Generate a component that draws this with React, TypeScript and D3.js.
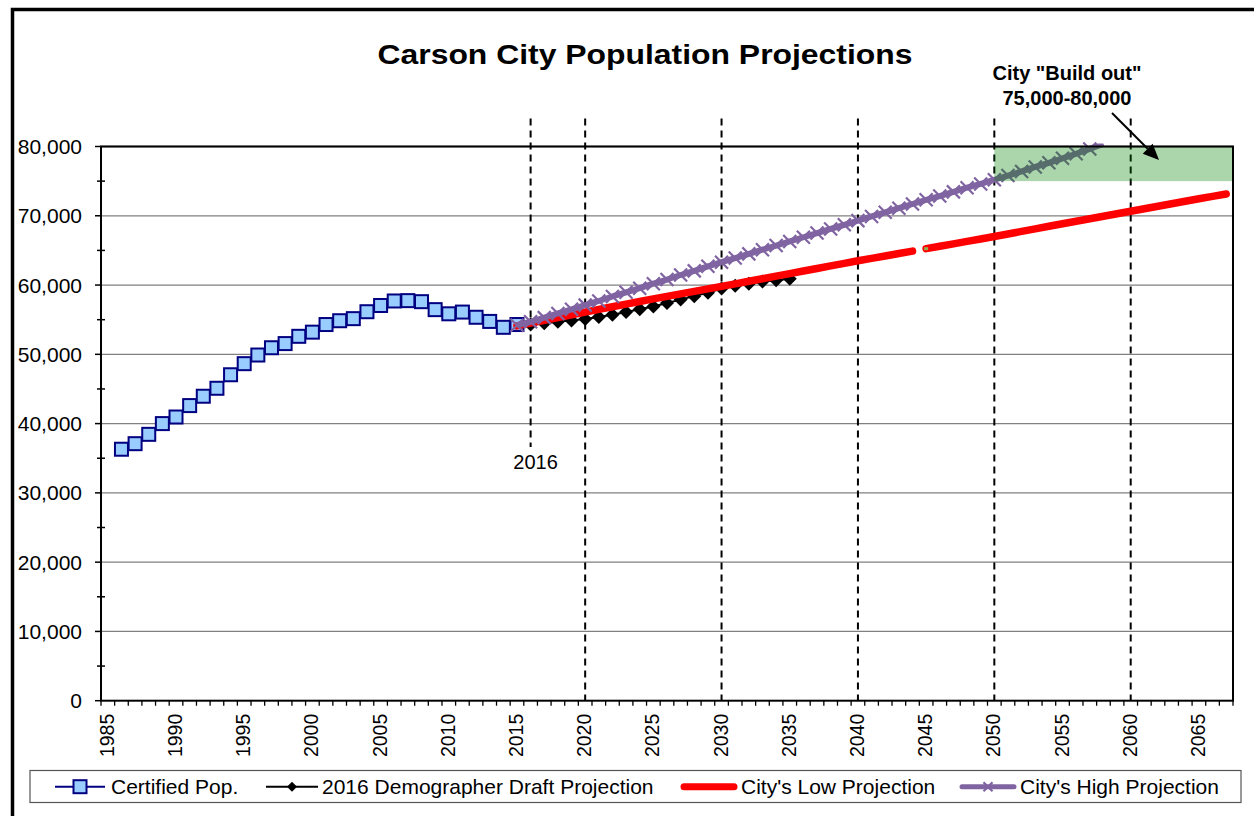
import * as d3 from 'd3';

const W = 1254;
const H = 816;
const PLOT = { left: 101, right: 1233, top: 146.5, bottom: 700.7 };
const FONT = '"Liberation Sans", Arial, sans-serif';

const NAVY = '#000080';
const SQUARE_FILL = '#99CCFF';
const RED = '#FF0000';
const PURPLE = '#8064A2';
const GRID = '#808080';

// category axis: one slot per year
const FIRST_YEAR = 1985;
const LAST_YEAR = 2067;
const X_LABEL_YEARS = [1985, 1990, 1995, 2000, 2005, 2010, 2015, 2020, 2025, 2030, 2035, 2040, 2045, 2050, 2055, 2060, 2065];
const Y_TICKS = [0, 10000, 20000, 30000, 40000, 50000, 60000, 70000, 80000];
const Y_MINOR = [5000, 15000, 25000, 35000, 45000, 55000, 65000, 75000];

const CERTIFIED_START = 1986;
const CERTIFIED = [
  36300, 37100, 38450, 40000, 40950, 42600, 43950, 45100, 47050, 48650,
  49900, 50950, 51550, 52600, 53200, 54300, 54850, 55150, 56150, 57050,
  57700, 57750, 57600, 56450, 55850, 56100, 55350, 54750, 53900, 54300,
];

const DRAFT_START = 2016;
const DRAFT = [
  54300, 54500, 54700, 54900, 55100, 55400, 55700, 56100, 56500, 56900,
  57400, 57900, 58400, 58900, 59500, 59900, 60200, 60500, 60700, 60900,
];

const LOW_START = 2015;
const LOW_GAP_AFTER = 2044;
const LOW = [
  54100, 54500, 54900, 55300, 55700, 56100, 56480, 56860, 57240, 57620,
  58000, 58360, 58720, 59080, 59440, 59800, 60170, 60540, 60910, 61280,
  61650, 62020, 62390, 62760, 63130, 63500, 63850, 64200, 64550, 64900,
  65250, 65600, 65950, 66300, 66650, 67000, 67370, 67740, 68110, 68480,
  68850, 69210, 69570, 69930, 70290, 70650, 71010, 71370, 71730, 72090,
  72450, 72800, 73150,
];

const HIGH_START = 2015;
const HIGH = [
  54200, 54700, 55300, 55900, 56500, 57100, 57700, 58350, 58950, 59550,
  60200, 60800, 61450, 62050, 62700, 63300, 63900, 64500, 65100, 65700,
  66300, 66900, 67500, 68100, 68700, 69300, 69900, 70500, 71100, 71700,
  72300, 72850, 73450, 74050, 74600, 75200, 75800, 76400, 77050, 77650,
  78300, 78950, 79650, 80400,
];

const MARKER_YEARS = [2016, 2020, 2030, 2040, 2050, 2060];
const BUILD_OUT = [75000, 80000];
const BUILD_OUT_FROM = 2050;

type Pt = { year: number; value: number };
const toPts = (start: number, vals: number[]): Pt[] => vals.map((v, i) => ({ year: start + i, value: v }));

const years = d3.range(FIRST_YEAR, LAST_YEAR + 1);
const x = d3.scaleBand<number>().domain(years).range([PLOT.left, PLOT.right]).padding(0);
const cx = (yr: number) => (x(yr) ?? 0) + x.bandwidth() / 2;
const y = d3.scaleLinear().domain([0, 80000]).range([PLOT.bottom, PLOT.top]);

const line = d3.line<Pt>().x((d) => cx(d.year)).y((d) => y(d.value));

function Square({ px, py }: { px: number; py: number }) {
  return <rect x={px - 6.5} y={py - 6.5} width={13} height={13} fill={SQUARE_FILL} stroke={NAVY} strokeWidth={2} />;
}

function Diamond({ px, py, r = 7 }: { px: number; py: number; r?: number }) {
  return <path d={`M${px},${py - r}L${px + r},${py}L${px},${py + r}L${px - r},${py}Z`} fill="#000" />;
}

function Cross({ px, py, s = 6.5, color = PURPLE }: { px: number; py: number; s?: number; color?: string }) {
  return (
    <path d={`M${px - s},${py - s}L${px + s},${py + s}M${px - s},${py + s}L${px + s},${py - s}`} stroke={color} strokeWidth={2.2} />
  );
}

export default function App() {
  const certified = toPts(CERTIFIED_START, CERTIFIED);
  const draft = toPts(DRAFT_START, DRAFT);
  const low = toPts(LOW_START, LOW);
  const lowA = low.filter((d) => d.year <= LOW_GAP_AFTER);
  const lowB = low.filter((d) => d.year > LOW_GAP_AFTER);
  const high = toPts(HIGH_START, HIGH);

  const dashTop = PLOT.top - 28;
  const legendY = 786.7;

  // arrow from the build-out note into the green band
  const a0 = [1112, 113];
  const tip = [1159, 160];
  const len = Math.hypot(tip[0] - a0[0], tip[1] - a0[1]);
  const ux = (tip[0] - a0[0]) / len;
  const uy = (tip[1] - a0[1]) / len;
  const hb = [tip[0] - ux * 16, tip[1] - uy * 16];

  return (
    <svg width={W} height={H} style={{ position: 'absolute', left: 0, top: 0, background: '#fff' }} fontFamily={FONT}>
      <defs>
        <clipPath id="plotclip">
          <rect x={PLOT.left} y={PLOT.top - 3} width={PLOT.right - PLOT.left} height={PLOT.bottom - PLOT.top + 3} />
        </clipPath>
      </defs>
      <rect x={0} y={0} width={W} height={H} fill="#fff" />
      {/* outer frame */}
      <rect x={12.5} y={9.5} width={W + 40} height={H + 40} fill="none" stroke="#000" strokeWidth={3.5} />

      <text x={645} y={63.5} textAnchor="middle" fontSize={28} fontWeight="bold" textLength={535} lengthAdjust="spacingAndGlyphs">
        Carson City Population Projections
      </text>

      {/* gridlines */}
      {Y_TICKS.slice(1).map((t) => (
        <line key={t} x1={PLOT.left} x2={PLOT.right} y1={y(t)} y2={y(t)} stroke={GRID} strokeWidth={1.3} />
      ))}

      {/* vertical reference lines */}
      {MARKER_YEARS.map((yr) => (
        <line
          key={yr}
          x1={cx(yr)}
          x2={cx(yr)}
          y1={dashTop}
          y2={yr === 2016 ? 447 : PLOT.bottom}
          stroke="#000"
          strokeWidth={2}
          strokeDasharray="7,5"
        />
      ))}
      <text x={cx(2016) + 5} y={469} textAnchor="middle" fontSize={20}>2016</text>

      {/* certified population */}
      <path d={line(certified) ?? ''} fill="none" stroke={NAVY} strokeWidth={2} />
      {certified.map((d) => <Square key={d.year} px={cx(d.year)} py={y(d.value)} />)}

      {/* demographer draft */}
      <path d={line(draft) ?? ''} fill="none" stroke="#000" strokeWidth={2} />
      {draft.map((d) => <Diamond key={d.year} px={cx(d.year)} py={y(d.value)} />)}

      {/* low projection */}
      <path d={line(lowA) ?? ''} fill="none" stroke={RED} strokeWidth={7.5} strokeLinecap="round" strokeLinejoin="round" />
      <path d={line(lowB) ?? ''} fill="none" stroke={RED} strokeWidth={7.5} strokeLinecap="round" strokeLinejoin="round" />
      <rect x={cx(LOW_GAP_AFTER + 1) - 2} y={y(LOW[LOW_GAP_AFTER + 1 - LOW_START]) - 1.5} width={4} height={3} fill="#92B050" />

      {/* high projection */}
      <g clipPath="url(#plotclip)">
        <path d={line(high) ?? ''} fill="none" stroke={PURPLE} strokeWidth={6} strokeLinejoin="round" />
      </g>
      {high.filter((d) => d.value <= 80000).map((d) => <Cross key={d.year} px={cx(d.year)} py={y(d.value)} />)}

      {/* build-out band */}
      <rect
        x={cx(BUILD_OUT_FROM)}
        y={y(BUILD_OUT[1])}
        width={PLOT.right - cx(BUILD_OUT_FROM)}
        height={y(BUILD_OUT[0]) - y(BUILD_OUT[1])}
        fill="#008000"
        opacity={0.33}
      />

      {/* plot border & axes */}
      <rect x={PLOT.left} y={PLOT.top} width={PLOT.right - PLOT.left} height={PLOT.bottom - PLOT.top} fill="none" stroke="#000" strokeWidth={2} />

      {Y_TICKS.map((t) => (
        <g key={t}>
          <line x1={PLOT.left - 6} x2={PLOT.left} y1={y(t)} y2={y(t)} stroke="#000" strokeWidth={1.5} />
          <text x={82} y={y(t)} textAnchor="end" dominantBaseline="central" fontSize={21}>
            {d3.format(',')(t)}
          </text>
        </g>
      ))}
      {Y_MINOR.map((t) => (
        <line key={t} x1={PLOT.left - 4} x2={PLOT.left + 4} y1={y(t)} y2={y(t)} stroke="#000" strokeWidth={1.5} />
      ))}

      {years.map((yr) => (
        <line key={yr} x1={x(yr)} x2={x(yr)} y1={PLOT.bottom} y2={PLOT.bottom + 5} stroke="#000" strokeWidth={1.3} />
      ))}
      <line x1={PLOT.right} x2={PLOT.right} y1={PLOT.bottom} y2={PLOT.bottom + 5} stroke="#000" strokeWidth={1.3} />
      {X_LABEL_YEARS.map((yr) => (
        <text
          key={yr}
          transform={`translate(${cx(yr) - 1},${PLOT.bottom + 13}) rotate(-90)`}
          textAnchor="end"
          dominantBaseline="central"
          fontSize={19.5}
        >
          {yr}
        </text>
      ))}

      {/* build-out note */}
      <text x={1067} y={80} textAnchor="middle" fontSize={20} fontWeight="bold">City "Build out"</text>
      <text x={1067} y={105} textAnchor="middle" fontSize={20} fontWeight="bold">75,000-80,000</text>
      <line x1={a0[0]} y1={a0[1]} x2={hb[0]} y2={hb[1]} stroke="#000" strokeWidth={2} />
      <path
        d={`M${tip[0]},${tip[1]}L${hb[0] - uy * 7},${hb[1] + ux * 7}L${hb[0] + uy * 7},${hb[1] - ux * 7}Z`}
        fill="#000"
      />

      {/* legend */}
      <rect x={30} y={770.5} width={1211} height={32} fill="#fff" stroke="#555" strokeWidth={1.2} />
      <g fontSize={21}>
        <line x1={55} x2={105} y1={legendY} y2={legendY} stroke={NAVY} strokeWidth={2} />
        <Square px={80} py={legendY} />
        <text x={111} y={legendY} dominantBaseline="central">Certified Pop.</text>

        <line x1={266} x2={318} y1={legendY} y2={legendY} stroke="#000" strokeWidth={2} />
        <Diamond px={292} py={legendY} r={5} />
        <text x={322} y={legendY} dominantBaseline="central">2016 Demographer Draft Projection</text>

        <line x1={684} x2={734} y1={legendY} y2={legendY} stroke={RED} strokeWidth={7} strokeLinecap="round" />
        <text x={741} y={legendY} dominantBaseline="central">City's Low Projection</text>

        <line x1={962} x2={1014} y1={legendY} y2={legendY} stroke={PURPLE} strokeWidth={5} strokeLinecap="round" />
        <Cross px={988} py={legendY} s={4.5} />
        <text x={1020} y={legendY} dominantBaseline="central">City's High Projection</text>
      </g>
    </svg>
  );
}
